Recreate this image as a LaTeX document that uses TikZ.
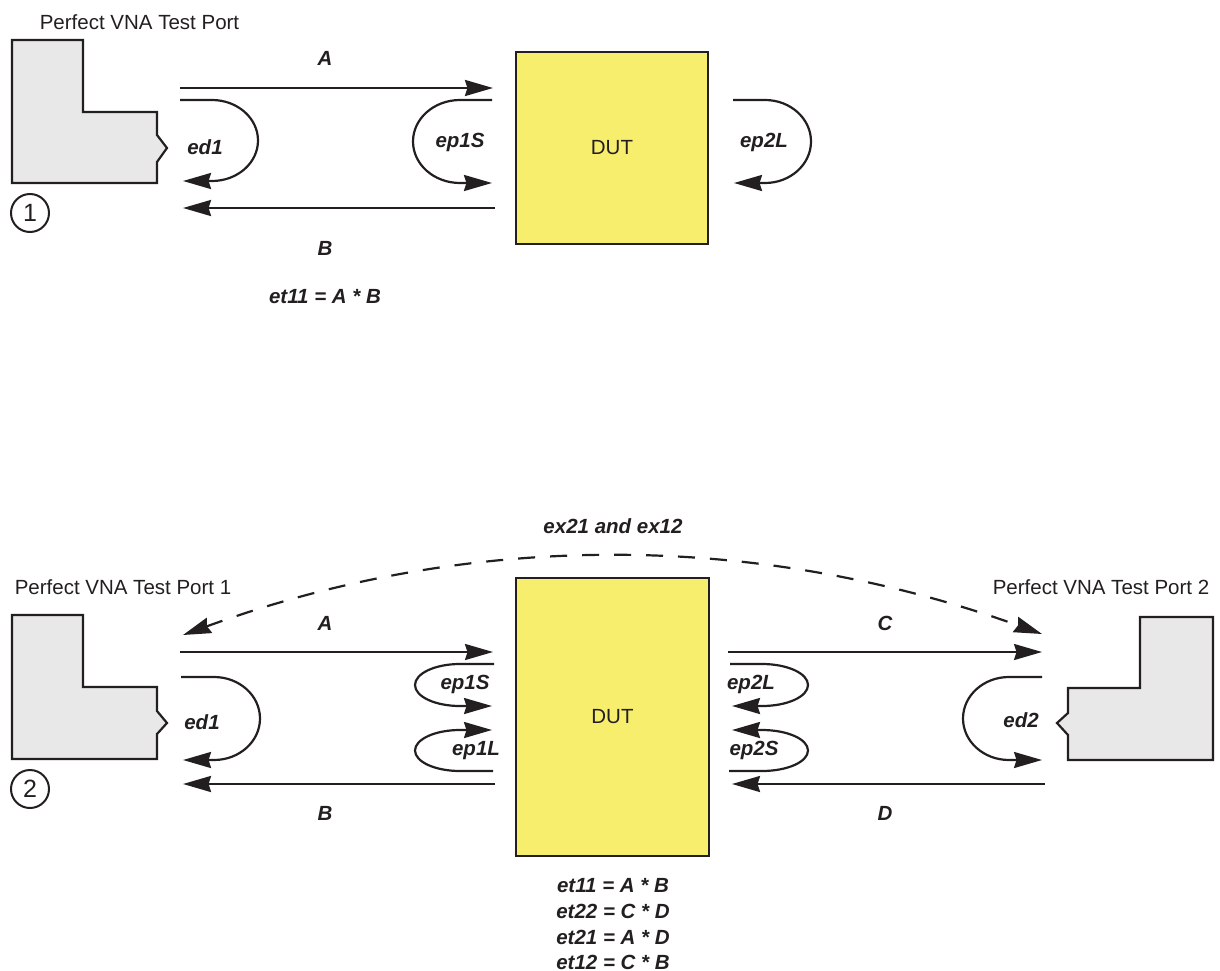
\documentclass[tikz,border=0pt]{standalone}
\usepackage{fontspec}
\setmainfont{Liberation Sans}
\usetikzlibrary{arrows.meta}
\definecolor{ink}{HTML}{231F20}
\definecolor{portgray}{HTML}{E8E8E8}
\definecolor{dutyellow}{HTML}{F8EE6E}
\tikzset{
  bigtip/.tip={Stealth[length=28pt,width=16pt,inset=2.5pt]},
  lbl/.style={font=\fontsize{20.5}{24}\selectfont\bfseries\itshape, text=ink, inner sep=0pt},
  plain/.style={font=\fontsize{20.5}{24}\selectfont, text=ink, inner sep=0pt},
  sig/.style={line width=2.2pt, draw=ink, -bigtip},
  xtalk/.style={line width=2.2pt, draw=ink, dash pattern=on 17pt off 15pt, bigtip-bigtip},
  port/.style={line width=2.2pt, draw=ink, fill=portgray, line join=miter},
  dutbox/.style={rectangle, draw=ink, line width=2.6pt, fill=dutyellow, inner sep=0pt,
    font=\fontsize{20.5}{24}\selectfont, text=ink},
  num/.style={circle, draw=ink, line width=2pt, minimum size=38pt, inner sep=0pt,
    font=\fontsize{25}{28}\selectfont, text=ink},
}
\begin{document}
\begin{tikzpicture}[x=1pt,y=-1pt]
\useasboundingbox (0,0) rectangle (1220,971);

% ---------------- one-port setup ----------------
\node[plain] (ttl1) at (139.5,22.5) {Perfect VNA Test Port};
\draw[port] (12,40) -- (83,40) -- (83,112) -- (157,112) -- (157,135) -- (167,148)
  -- (157,162) -- (157,183) -- (12,183) -- cycle;
\node[num] (n1) at (30,213) {1};
\node[dutbox, minimum width=192pt, minimum height=192pt] (dut1) at (612,148) {DUT};

\coordinate (a1s) at (180,88);   \coordinate (a1e) at (493,88);
\coordinate (b1s) at (495,208);  \coordinate (b1e) at (183,208);
\coordinate (d1s) at (180,100);  \coordinate (d1e) at (183,181);
\coordinate (s1s) at (492,100);  \coordinate (s1e) at (492,183);
\coordinate (l1s) at (733,100);  \coordinate (l1e) at (734,183);

\draw[sig] (a1s) -- (a1e);
\draw[sig] (b1s) -- (b1e);
\draw[sig] (d1s) -- (212,100) arc[start angle=-90,end angle=90,x radius=46,y radius=40.5] -- (d1e);
\draw[sig] (s1s) -- (460,100) arc[start angle=-90,end angle=-270,x radius=47,y radius=41.5] -- (s1e);
\draw[sig] (l1s) -- (765,100) arc[start angle=-90,end angle=90,x radius=46,y radius=41.5] -- (l1e);

\node[lbl] (lA1) at (325,58) {A};
\node[lbl] (lB1) at (325,248) {B};
\node[lbl] (led1) at (205,147.5) {ed1};
\node[lbl] (lep1S) at (460,142) {ep1S};
\node[lbl] (lep2L) at (764,142) {ep2L};
\node[lbl] (eq1) at (325,297) {et11 = A * B};

% ---------------- two-port setup ----------------
\node[plain] (ttl2) at (123,587.5) {Perfect VNA Test Port 1};
\node[plain] (ttl3) at (1101,587.5) {Perfect VNA Test Port 2};
\draw[port] (12,615) -- (83,615) -- (83,687) -- (157,687) -- (157,711) -- (167,723)
  -- (157,734) -- (157,759) -- (12,759) -- cycle;
\draw[port] (1140,617) -- (1213,617) -- (1213,760) -- (1068,760) -- (1068,735)
  -- (1057,723) -- (1068,713) -- (1068,688) -- (1140,688) -- cycle;
\node[num] (n2) at (30,789) {2};
\node[dutbox, minimum width=193pt, minimum height=278pt] (dut2) at (612.5,717) {DUT};

\coordinate (xl) at (183,635);   \coordinate (xr) at (1042,634);
\coordinate (a2s) at (180,652);  \coordinate (a2e) at (493,652);
\coordinate (b2s) at (495,784);  \coordinate (b2e) at (183,784);
\coordinate (c2s) at (728,652);  \coordinate (c2e) at (1042,652);
\coordinate (dd2s) at (1045,784); \coordinate (dd2e) at (732,784);
\coordinate (d2s) at (181,677);  \coordinate (d2e) at (183,760);
\coordinate (e2s) at (1042,677); \coordinate (e2e) at (1042,760);
\coordinate (s2s) at (494,664);  \coordinate (s2e) at (492,706);
\coordinate (m2s) at (493,771);  \coordinate (m2e) at (492,730);
\coordinate (l2s) at (730,664);  \coordinate (l2e) at (732,706);
\coordinate (t2s) at (729,771);  \coordinate (t2e) at (732,730);

\draw[xtalk] (xl) .. controls (469,531) and (755,531) .. (xr);
\draw[sig] (a2s) -- (a2e);
\draw[sig] (b2s) -- (b2e);
\draw[sig] (c2s) -- (c2e);
\draw[sig] (dd2s) -- (dd2e);
\draw[sig] (d2s) -- (214,677) arc[start angle=-90,end angle=90,x radius=46,y radius=41.5] -- (d2e);
\draw[sig] (e2s) -- (1009,677) arc[start angle=-90,end angle=-270,x radius=46,y radius=41.5] -- (e2e);
\draw[sig] (s2s) -- (460,664) arc[start angle=-90,end angle=-270,x radius=45,y radius=21] -- (s2e);
\draw[sig] (m2s) -- (460,771) arc[start angle=90,end angle=270,x radius=45,y radius=20.5] -- (m2e);
\draw[sig] (l2s) -- (762,664) arc[start angle=-90,end angle=90,x radius=46,y radius=21] -- (l2e);
\draw[sig] (t2s) -- (762,771) arc[start angle=90,end angle=-90,x radius=46,y radius=20.5] -- (t2e);

\node[lbl] (lx) at (613,526.5) {ex21 and ex12};
\node[lbl] (lA2) at (325,623) {A};
\node[lbl] (lB2) at (325,813) {B};
\node[lbl] (lC2) at (885,623) {C};
\node[lbl] (lD2) at (885,813) {D};
\node[lbl] (led1b) at (202,722) {ed1};
\node[lbl] (led2) at (1021,720) {ed2};
\node[lbl] (lep1Sb) at (465,684) {ep1S};
\node[lbl] (lep1L) at (476,750.5) {ep1L};
\node[lbl] (lep2Lb) at (751,684) {ep2L};
\node[lbl] (lep2S) at (754,750.5) {ep2S};
\node[lbl] (eq2) at (613,886) {et11 = A * B};
\node[lbl] (eq3) at (613,911) {et22 = C * D};
\node[lbl] (eq4) at (613,937) {et21 = A * D};
\node[lbl] (eq5) at (613,962) {et12 = C * B};
\end{tikzpicture}
\end{document}
